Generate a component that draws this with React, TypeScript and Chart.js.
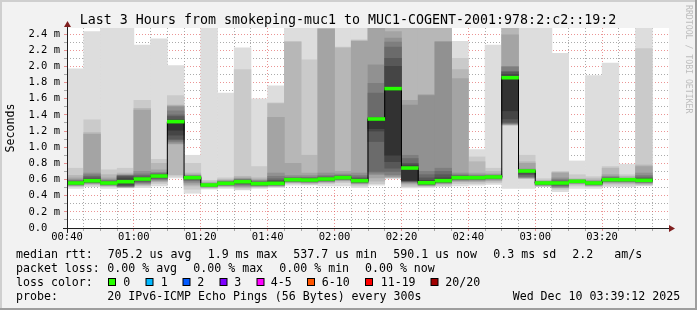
import React, { useEffect, useRef } from 'react';
import { Chart, registerables } from 'chart.js';

Chart.register(...registerables);

// ---------------- data ----------------
const STEP_MIN = 5; // one column every 300 s
const SPAN_MIN = 180; // 3 hours, starting 00:40
const Y_MAX = 2.475; // ms
const timeLabels = ['00:40', '01:00', '01:20', '01:40', '02:00', '02:20', '02:40', '03:00', '03:20'];

// median rtt per 5-minute column (ms)
const medians = [
  0.557, 0.585, 0.557, 0.573, 0.606, 0.643, 1.316, 0.623, 0.532, 0.553, 0.573, 0.549,
  0.553, 0.598, 0.594, 0.606, 0.623, 0.586, 1.349, 1.725, 0.742, 0.56, 0.586, 0.623,
  0.623, 0.631, 1.86, 0.705, 0.557, 0.557, 0.578, 0.557, 0.598, 0.598, 0.59,
];

// the 20 sorted pings of every column (ms)
const smokePings: number[][] = [
  [0.49, 0.51, 0.52, 0.525, 0.53, 0.535, 0.54, 0.545, 0.55, 0.555, 0.56, 0.565, 0.575, 0.58, 0.59, 0.6, 0.62, 0.65, 0.74, 1.97],
  [0.51, 0.53, 0.54, 0.55, 0.555, 0.56, 0.565, 0.57, 0.575, 0.58, 0.59, 0.6, 0.62, 0.64, 0.66, 0.68, 1.16, 1.18, 1.34, 2.43],
  [0.49, 0.51, 0.52, 0.525, 0.53, 0.535, 0.54, 0.545, 0.55, 0.555, 0.56, 0.565, 0.57, 0.58, 0.59, 0.6, 0.62, 0.66, 0.72, 2.6],
  [0.495, 0.5, 0.505, 0.508, 0.51, 0.515, 0.52, 0.525, 0.54, 0.565, 0.58, 0.62, 0.64, 0.645, 0.65, 0.655, 0.66, 0.68, 0.74, 2.6],
  [0.5, 0.52, 0.53, 0.54, 0.55, 0.56, 0.57, 0.58, 0.59, 0.6, 0.61, 0.62, 0.63, 0.65, 0.67, 0.7, 1.46, 1.48, 1.58, 2.265],
  [0.52, 0.55, 0.57, 0.58, 0.59, 0.6, 0.61, 0.62, 0.63, 0.64, 0.65, 0.655, 0.66, 0.67, 0.68, 0.69, 0.72, 0.8, 0.85, 2.34],
  [0.62, 0.64, 0.66, 1.04, 1.05, 1.07, 1.09, 1.1, 1.15, 1.21, 1.32, 1.34, 1.38, 1.4, 1.45, 1.5, 1.51, 1.52, 1.64, 2.01],
  [0.43, 0.48, 0.52, 0.54, 0.56, 0.58, 0.59, 0.6, 0.61, 0.62, 0.625, 0.63, 0.635, 0.64, 0.645, 0.65, 0.66, 0.68, 0.8, 0.9],
  [0.48, 0.49, 0.5, 0.505, 0.51, 0.515, 0.52, 0.525, 0.528, 0.53, 0.534, 0.536, 0.538, 0.54, 0.545, 0.55, 0.56, 0.57, 0.59, 2.6],
  [0.49, 0.505, 0.515, 0.52, 0.525, 0.53, 0.535, 0.54, 0.545, 0.55, 0.555, 0.56, 0.565, 0.57, 0.575, 0.58, 0.59, 0.6, 0.62, 1.67],
  [0.47, 0.48, 0.5, 0.51, 0.52, 0.53, 0.54, 0.55, 0.56, 0.57, 0.58, 0.585, 0.59, 0.595, 0.6, 0.61, 0.62, 0.64, 1.96, 2.23],
  [0.49, 0.5, 0.51, 0.515, 0.52, 0.525, 0.53, 0.535, 0.54, 0.545, 0.555, 0.56, 0.565, 0.57, 0.58, 0.59, 0.6, 0.62, 0.76, 1.6],
  [0.5, 0.51, 0.515, 0.52, 0.525, 0.53, 0.535, 0.54, 0.545, 0.55, 0.56, 0.575, 0.59, 0.61, 0.64, 0.68, 1.37, 1.54, 1.55, 1.76],
  [0.53, 0.55, 0.56, 0.565, 0.57, 0.575, 0.58, 0.585, 0.59, 0.595, 0.6, 0.605, 0.61, 0.62, 0.63, 0.65, 0.8, 2.3, 2.31, 2.6],
  [0.53, 0.54, 0.55, 0.56, 0.565, 0.57, 0.575, 0.58, 0.585, 0.59, 0.597, 0.6, 0.61, 0.62, 0.63, 0.65, 0.68, 0.9, 2.08, 2.6],
  [0.52, 0.55, 0.56, 0.57, 0.575, 0.58, 0.585, 0.59, 0.595, 0.6, 0.61, 0.615, 0.625, 0.635, 0.65, 0.68, 2.46, 2.6, 2.6, 2.6],
  [0.52, 0.56, 0.58, 0.59, 0.595, 0.6, 0.605, 0.61, 0.615, 0.62, 0.626, 0.632, 0.64, 0.645, 0.655, 0.67, 0.7, 2.23, 2.24, 2.6],
  [0.5, 0.52, 0.54, 0.55, 0.555, 0.56, 0.565, 0.57, 0.575, 0.58, 0.59, 0.6, 0.615, 0.63, 0.65, 0.68, 2.31, 2.32, 2.33, 2.6],
  [0.53, 0.55, 0.58, 0.62, 0.66, 0.68, 0.7, 1.07, 1.2, 1.23, 1.355, 1.36, 1.37, 1.67, 1.79, 2.02, 2.6, 2.6, 2.6, 2.6],
  [0.615, 0.62, 0.625, 0.63, 0.64, 0.66, 0.7, 0.74, 0.82, 0.9, 1.74, 2.0, 2.1, 2.24, 2.3, 2.35, 2.43, 2.6, 2.6, 2.6],
  [0.495, 0.51, 0.53, 0.55, 0.56, 0.57, 0.575, 0.58, 0.585, 0.59, 0.75, 0.78, 0.8, 0.86, 0.9, 1.52, 1.58, 2.6, 2.6, 2.6],
  [0.5, 0.51, 0.52, 0.525, 0.53, 0.535, 0.54, 0.545, 0.55, 0.555, 0.57, 0.59, 0.62, 0.66, 0.7, 1.64, 1.65, 2.6, 2.6, 2.6],
  [0.51, 0.525, 0.54, 0.55, 0.555, 0.56, 0.565, 0.57, 0.575, 0.58, 0.59, 0.62, 0.66, 0.7, 0.74, 2.3, 2.31, 2.6, 2.6, 2.6],
  [0.52, 0.55, 0.57, 0.58, 0.59, 0.595, 0.6, 0.61, 0.615, 0.62, 0.63, 0.635, 0.64, 0.65, 0.66, 0.68, 1.85, 1.96, 2.1, 2.31],
  [0.53, 0.55, 0.57, 0.58, 0.59, 0.6, 0.605, 0.61, 0.615, 0.62, 0.625, 0.63, 0.635, 0.64, 0.65, 0.66, 0.68, 0.82, 0.88, 0.97],
  [0.54, 0.56, 0.58, 0.59, 0.6, 0.61, 0.615, 0.62, 0.624, 0.628, 0.634, 0.637, 0.64, 0.645, 0.65, 0.66, 0.67, 0.7, 0.74, 2.265],
  [0.49, 1.27, 1.275, 1.28, 1.285, 1.29, 1.3, 1.31, 1.35, 1.45, 1.87, 1.9, 1.93, 1.94, 1.99, 2.0, 2.39, 2.6, 2.6, 2.6],
  [0.49, 0.61, 0.615, 0.62, 0.625, 0.63, 0.64, 0.66, 0.68, 0.7, 0.708, 0.71, 0.712, 0.715, 0.72, 0.73, 0.8, 0.82, 0.9, 2.6],
  [0.51, 0.515, 0.52, 0.525, 0.53, 0.535, 0.54, 0.545, 0.55, 0.555, 0.56, 0.562, 0.564, 0.567, 0.57, 0.575, 0.58, 0.59, 0.61, 2.6],
  [0.45, 0.48, 0.495, 0.5, 0.505, 0.515, 0.525, 0.535, 0.545, 0.553, 0.56, 0.567, 0.575, 0.585, 0.6, 0.62, 0.68, 0.69, 0.7, 2.16],
  [0.49, 0.52, 0.54, 0.55, 0.555, 0.56, 0.564, 0.568, 0.572, 0.576, 0.58, 0.582, 0.584, 0.587, 0.59, 0.595, 0.6, 0.61, 0.66, 0.83],
  [0.49, 0.51, 0.52, 0.525, 0.53, 0.535, 0.54, 0.545, 0.55, 0.555, 0.56, 0.562, 0.565, 0.57, 0.575, 0.58, 0.59, 0.61, 0.635, 1.885],
  [0.51, 0.53, 0.55, 0.56, 0.57, 0.575, 0.58, 0.585, 0.59, 0.595, 0.6, 0.605, 0.61, 0.62, 0.63, 0.64, 0.66, 0.74, 0.76, 2.04],
  [0.51, 0.53, 0.55, 0.56, 0.57, 0.575, 0.58, 0.585, 0.59, 0.595, 0.6, 0.602, 0.604, 0.607, 0.61, 0.615, 0.62, 0.64, 0.66, 0.79],
  [0.52, 0.53, 0.54, 0.55, 0.56, 0.565, 0.57, 0.575, 0.58, 0.585, 0.595, 0.605, 0.615, 0.63, 0.65, 0.68, 0.76, 0.78, 2.22, 2.6],
];

const titleText = 'Last 3 Hours from smokeping-muc1 to MUC1-COGENT-2001:978:2:c2::19:2';
const rttStats = ['705.2 us avg', '1.9 ms max', '537.7 us min', '590.1 us now', '0.3 ms sd', '2.2', 'am/s'];
const lossStats = ['0.00 % avg', '0.00 % max', '0.00 % min', '0.00 % now'];
const lossLabels = ['0', '1', '2', '3', '4-5', '6-10', '11-19', '20/20'];
const lossColors = ['#26ff00', '#00b8ff', '#0059ff', '#7e00ff', '#ff00ff', '#ff5500', '#ff0000', '#a00000'];
const probeText = '20 IPv6-ICMP Echo Pings (56 Bytes) every 300s';
const stampText = 'Wed Dec 10 03:39:12 2025';

// ---------------- styling ----------------
const W = 697;
const H = 310;
const MONO = '"DejaVu Sans Mono", "Liberation Mono", monospace';
const smokeShades = ['#dddddd', '#cacaca', '#b7b7b7', '#a4a4a4', '#919191', '#7e7e7e', '#6b6b6b', '#585858', '#454545', '#323232'];
const GRID_MINOR = 'rgba(143,143,143,0.75)';
const GRID_MAJOR = 'rgba(222,79,79,0.6)';
const MEDIAN_HALF = 0.018;

const rttX = [107.7, 207.7, 293.3, 393.3, 493.3, 572.3, 614.3];
const lossX = [107.3, 193.3, 279.3, 365];
const boxX = [108, 145.5, 182.5, 219.5, 256.5, 307, 365, 430.5];
const boxLabelX = [123.3, 160.7, 197.3, 234.3, 270.7, 321.7, 380.7, 445.3];

const decorPlugin = {
  id: 'rrdDecor',
  beforeDraw(chart: any) {
    const { ctx, chartArea: a } = chart;
    ctx.save();
    ctx.fillStyle = '#f2f2f2';
    ctx.fillRect(0, 0, W, H);
    ctx.fillStyle = '#cfcfcf';
    ctx.fillRect(0, 0, W, 2);
    ctx.fillRect(0, 0, 2, H);
    ctx.fillStyle = '#9e9e9e';
    ctx.fillRect(0, H - 2, W, 2);
    ctx.fillRect(W - 2, 0, 2, H);
    ctx.fillStyle = '#ffffff';
    ctx.fillRect(a.left, a.top, a.right - a.left, a.bottom - a.top);
    ctx.restore();
  },
  afterDraw(chart: any) {
    const { ctx, chartArea: a } = chart;
    ctx.save();
    // axes
    ctx.fillStyle = '#1f1f1f';
    ctx.fillRect(a.left - 4, a.bottom, a.right - a.left + 4, 1);
    ctx.fillRect(a.left, a.top - 2, 1, a.bottom - a.top + 7);
    // arrows
    ctx.fillStyle = '#801f1f';
    ctx.beginPath();
    ctx.moveTo(a.right, a.bottom - 3);
    ctx.lineTo(a.right + 6, a.bottom + 0.5);
    ctx.lineTo(a.right, a.bottom + 4);
    ctx.closePath();
    ctx.fill();
    ctx.beginPath();
    ctx.moveTo(a.left - 3, a.top - 1);
    ctx.lineTo(a.left + 0.5, a.top - 7);
    ctx.lineTo(a.left + 4, a.top - 1);
    ctx.closePath();
    ctx.fill();

    // title
    ctx.fillStyle = '#000';
    ctx.textBaseline = 'alphabetic';
    ctx.textAlign = 'center';
    ctx.font = `13.3px ${MONO}`;
    ctx.fillText(titleText, 348, 24);

    // legend
    ctx.textAlign = 'left';
    ctx.font = `11.6px ${MONO}`;
    ctx.fillText('median rtt:', 16, 258);
    rttStats.forEach((t, i) => ctx.fillText(t, rttX[i], 258));
    ctx.fillText('packet loss:', 16, 272);
    lossStats.forEach((t, i) => ctx.fillText(t, lossX[i], 272));
    ctx.fillText('loss color:', 16, 286);
    lossLabels.forEach((t, i) => {
      ctx.fillStyle = '#000';
      ctx.fillRect(boxX[i], 278, 8, 8);
      ctx.fillStyle = lossColors[i];
      ctx.fillRect(boxX[i] + 1, 279, 6, 6);
      ctx.fillStyle = '#000';
      ctx.fillText(t, boxLabelX[i], 286);
    });
    ctx.fillText('probe:', 16, 300);
    ctx.fillText(probeText, 107.3, 300);
    ctx.fillText(stampText, 512.7, 300);

    // watermark
    ctx.translate(692, 5);
    ctx.rotate(Math.PI / 2);
    ctx.textBaseline = 'top';
    ctx.fillStyle = '#bdbdbd';
    ctx.font = `8.2px ${MONO}`;
    ctx.fillText('RRDTOOL / TOBI OETIKER', 0, 0);
    ctx.restore();
  },
};

export default function App() {
  const canvasRef = useRef<HTMLCanvasElement | null>(null);

  useEffect(() => {
    const canvas = canvasRef.current;
    if (!canvas) return;

    const colX = (i: number) => i * STEP_MIN + STEP_MIN / 2;

    const smokeSets = smokeShades.map((shade, k) => ({
      type: 'bar' as const,
      data: smokePings.map((p, i) => ({ x: colX(i), y: [p[k], p[p.length - 1 - k]] })),
      backgroundColor: shade,
      borderWidth: 0,
      barPercentage: 1,
      categoryPercentage: 1,
      grouped: false,
      order: 20 - k,
    }));

    const medianMarks = {
      type: 'bar' as const,
      data: medians.map((m, i) => ({ x: colX(i), y: [m - MEDIAN_HALF, m + MEDIAN_HALF] })),
      backgroundColor: lossColors[0],
      borderWidth: 0,
      barPercentage: 1,
      categoryPercentage: 1,
      grouped: false,
      order: 0,
    };

    const stepData = medians.map((m, i) => ({ x: i * STEP_MIN, y: m }));
    stepData.push({ x: medians.length * STEP_MIN, y: medians[medians.length - 1] });
    const medianLine = {
      type: 'line' as const,
      data: stepData,
      stepped: true,
      borderColor: '#000000',
      borderWidth: 1,
      pointRadius: 0,
      fill: false,
      order: 1,
    };

    const tickFont = { family: MONO, size: 10.5, lineHeight: 1.2 };

    const chart = new Chart(canvas, {
      type: 'bar',
      data: { datasets: [medianMarks as any, medianLine as any, ...(smokeSets as any[])] },
      plugins: [decorPlugin],
      options: {
        animation: false,
        responsive: false,
        devicePixelRatio: 1,
        events: [],
        layout: { padding: { top: 28, right: 28, left: 0, bottom: 0 } },
        plugins: { legend: { display: false }, title: { display: false }, tooltip: { enabled: false } },
        scales: {
          x: {
            type: 'linear',
            min: 0,
            max: SPAN_MIN,
            offset: false,
            z: 1,
            afterFit: (s: any) => { s.height = 82; },
            grid: {
              offset: false,
              lineWidth: 1,
              tickLength: 3,
              color: (c: any) => {
                const v = c.tick ? c.tick.value : -1;
                if (v < 0 || v >= SPAN_MIN) return 'rgba(0,0,0,0)';
                return v % 20 === 0 ? GRID_MAJOR : GRID_MINOR;
              },
              tickColor: (c: any) => {
                const v = c.tick ? c.tick.value : -1;
                if (v < 0 || v >= SPAN_MIN) return 'rgba(0,0,0,0)';
                return v % 20 === 0 ? GRID_MAJOR : GRID_MINOR;
              },
            },
            border: { display: false, dash: [1, 2] },
            ticks: {
              stepSize: STEP_MIN,
              autoSkip: false,
              maxRotation: 0,
              minRotation: 0,
              padding: 0,
              color: '#000',
              font: tickFont,
              callback: (v: any) => {
                const n = Number(v);
                if (n % 20 !== 0 || n >= SPAN_MIN) return '';
                return timeLabels[n / 20];
              },
            },
          },
          y: {
            type: 'linear',
            min: 0,
            max: Y_MAX,
            z: 1,
            afterFit: (s: any) => { s.width = 67; },
            grid: {
              lineWidth: 1,
              tickLength: 3,
              color: (c: any) => {
                const t = c.tick ? Math.round(c.tick.value * 10) : -1;
                if (t <= 0) return 'rgba(0,0,0,0)';
                return t % 2 === 0 ? GRID_MAJOR : GRID_MINOR;
              },
              tickColor: (c: any) => {
                const t = c.tick ? Math.round(c.tick.value * 10) : -1;
                if (t < 0) return 'rgba(0,0,0,0)';
                return t % 2 === 0 ? GRID_MAJOR : GRID_MINOR;
              },
            },
            border: { display: false, dash: [1, 2] },
            title: {
              display: true,
              text: 'Seconds',
              color: '#000',
              font: { family: MONO, size: 11.6, lineHeight: 1.2 },
              padding: { top: 4, bottom: 0 },
            },
            ticks: {
              stepSize: 0.1,
              autoSkip: false,
              includeBounds: false,
              padding: 4,
              color: '#000',
              font: tickFont,
              callback: (v: any) => {
                const t = Math.round(Number(v) * 10);
                if (t % 2 !== 0) return '';
                return t === 0 ? '0.0  ' : (t / 10).toFixed(1) + ' m';
              },
            },
          },
        },
      } as any,
    });

    return () => chart.destroy();
  }, []);

  return (
    <div style={{ position: 'absolute', left: 0, top: 0, width: W, height: H }}>
      <canvas ref={canvasRef} width={W} height={H} style={{ display: 'block', width: W, height: H }} />
    </div>
  );
}
